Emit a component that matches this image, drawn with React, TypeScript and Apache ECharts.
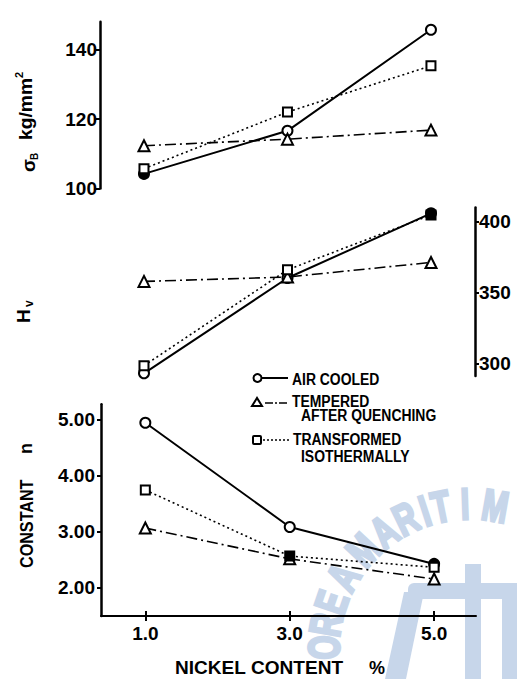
import React, { useEffect, useRef } from "react";
import * as echarts from "echarts";

// ---- data ----
const nickel = [1.0, 3.0, 5.0];
const treatments = ["AIR COOLED", "TEMPERED AFTER QUENCHING", "TRANSFORMED ISOTHERMALLY"];

const strengthAir = [104.2, 116.6, 145.7];
const strengthTempered = [112.3, 114.2, 116.8];
const strengthTransformed = [105.7, 122.0, 135.3];

const hardnessAir = [292.9, 360.2, 405.9];
const hardnessTempered = [357.8, 360.9, 371.2];
const hardnessTransformed = [298.3, 366.0, 404.7];

const constantAir = [4.95, 3.09, 2.43];
const constantTempered = [3.07, 2.52, 2.16];
const constantTransformed = [3.75, 2.57, 2.37];

const strengthTicks = [100, 120, 140];
const hardnessTicks = [300, 350, 400];
const constantTicks = [2, 3, 4, 5];
const nickelTicks = [1, 3, 5];

// ink-blotted (filled) markers in the scan: panel, treatment, point index
const filledMarks = [
  [0, 0, 0],
  [1, 0, 2],
  [1, 2, 2],
  [2, 2, 1],
  [2, 0, 2],
];

const FONT = '"Liberation Sans", Arial, sans-serif';
const WM = "#c7d6ea";

const treatmentStyle = [
  { symbol: "circle", size: 10, lineType: "solid" as any, width: 2 },
  { symbol: "triangle", size: 11, lineType: [11, 4, 2, 4] as any, width: 1.6 },
  { symbol: "rect", size: 9, lineType: [2, 3] as any, width: 1.6 },
];

const panels = [
  [strengthAir, strengthTempered, strengthTransformed],
  [hardnessAir, hardnessTempered, hardnessTransformed],
  [constantAir, constantTempered, constantTransformed],
];

function buildSeries() {
  const out: any[] = [];
  panels.forEach((panel, p) => {
    panel.forEach((vals, t) => {
      const st = treatmentStyle[t];
      out.push({
        type: "line",
        name: treatments[t],
        xAxisIndex: p,
        yAxisIndex: p,
        symbol: st.symbol,
        symbolSize: st.size,
        showAllSymbol: true,
        z: 5 + t,
        lineStyle: { color: "#000", width: st.width, type: st.lineType },
        itemStyle: { color: "#fff", borderColor: "#000", borderWidth: 2 },
        data: vals.map((v, i) => {
          const filled = filledMarks.some((f) => f[0] === p && f[1] === t && f[2] === i);
          return filled
            ? { value: [nickel[i], v], itemStyle: { color: "#000" } }
            : { value: [nickel[i], v] };
        }),
      });
    });
  });
  return out;
}

const tickLabel = { color: "#000", fontSize: 19, fontWeight: "bold" as const, fontFamily: FONT };

function txt(text: string, x: number, y: number, size: number, opts: any = {}) {
  return {
    type: "text",
    x,
    y,
    scaleX: opts.scaleX ?? 1,
    z: 100,
    style: {
      text,
      fill: opts.fill ?? "#000",
      fontSize: size,
      fontWeight: opts.weight ?? "bold",
      fontFamily: FONT,
      align: opts.align ?? "left",
      verticalAlign: "middle",
    },
  };
}

function watermark() {
  const letters = "OREAMARITIM".split("");
  const angles = [179, 170, 161, 150, 137, 126, 116, 108, 101.5, 92, 80];
  const cx = 470,
    cy = 650,
    r = 146;
  const els: any[] = letters.map((ch, i) => {
    const a = (angles[i] * Math.PI) / 180;
    return {
      type: "text",
      x: cx + r * Math.cos(a),
      y: cy - r * Math.sin(a),
      rotation: a - Math.PI / 2,
      scaleX: 0.7,
      z: -10,
      style: {
        text: ch,
        fill: WM,
        fontSize: 44,
        fontWeight: "bold",
        fontFamily: FONT,
        align: "center",
        verticalAlign: "middle",
        stroke: WM,
        lineWidth: 3,
      },
    };
  });
  els.push(
    { type: "rect", z: -10, shape: { x: 408, y: 583, width: 109, height: 16, r: [6, 0, 0, 0] }, style: { fill: WM } },
    { type: "polygon", z: -10, shape: { points: [[404, 592], [424, 592], [406, 679], [385, 679]] }, style: { fill: WM } },
    { type: "rect", z: -10, shape: { x: 465, y: 564, width: 16, height: 115 }, style: { fill: WM } },
    { type: "rect", z: -10, shape: { x: 502, y: 583, width: 15, height: 96 }, style: { fill: WM } }
  );
  return els;
}

function legend() {
  const s = { stroke: "#000", lineWidth: 2, fill: "#fff" };
  return [
    { type: "circle", z: 100, shape: { cx: 257.5, cy: 378, r: 4 }, style: s },
    { type: "line", z: 100, shape: { x1: 262, y1: 378, x2: 288, y2: 378 }, style: { stroke: "#000", lineWidth: 2 } },
    txt("AIR COOLED", 292, 379, 16, { scaleX: 0.87 }),
    { type: "polygon", z: 100, shape: { points: [[252, 406], [262, 406], [257, 398]] }, style: s },
    { type: "line", z: 100, shape: { x1: 265, y1: 403, x2: 288, y2: 403 }, style: { stroke: "#000", lineWidth: 1.6, lineDash: [8, 2, 2, 2] } },
    txt("TEMPERED", 292, 401, 16, { scaleX: 0.87 }),
    txt("AFTER QUENCHING", 301, 415, 16, { scaleX: 0.87 }),
    { type: "rect", z: 100, shape: { x: 253, y: 436, width: 8, height: 8, r: 1 }, style: s },
    { type: "line", z: 100, shape: { x1: 263, y1: 440, x2: 291, y2: 440 }, style: { stroke: "#000", lineWidth: 1.3, lineDash: [2, 2] } },
    txt("TRANSFORMED", 293, 439, 16, { scaleX: 0.87 }),
    txt("ISOTHERMALLY", 301, 456, 16, { scaleX: 0.87 }),
  ];
}

function titles() {
  return [
    {
      type: "group",
      x: 28,
      y: 172,
      rotation: Math.PI / 2,
      z: 100,
      children: [
        txt("σ", 0, 0, 19),
        txt("B", 12, 6, 10),
        txt("kg/mm", 32, -2, 18, { scaleX: 1.07 }),
        txt("2", 94, -9, 11),
      ],
    },
    {
      type: "group",
      x: 23,
      y: 323,
      rotation: Math.PI / 2,
      z: 100,
      children: [txt("H", 0, 0, 19), txt("v", 16, 6, 12)],
    },
    {
      type: "group",
      x: 27,
      y: 568,
      rotation: Math.PI / 2,
      z: 100,
      children: [txt("CONSTANT", 0, 0, 19, { scaleX: 0.85 }), txt("n", 114, -1, 18)],
    },
    txt("NICKEL CONTENT", 175, 668, 18, { scaleX: 1.06 }),
    txt("%", 369, 668, 18),
  ];
}

function buildOption(): any {
  const hiddenX = (gridIndex: number, max: number) => ({
    type: "value",
    gridIndex,
    min: 0.387,
    max,
    show: false,
  });
  return {
    animation: false,
    backgroundColor: "#fff",
    grid: [
      { left: 100, top: 21.7, width: 374, height: 166.8 },
      { left: 100, top: 207.5, width: 375, height: 168.5 },
      { left: 101, top: 404.3, width: 375, height: 211.7 },
    ],
    xAxis: [
      hiddenX(0, 5.6),
      hiddenX(1, 5.613),
      {
        type: "value",
        gridIndex: 2,
        position: "bottom",
        min: 0.386,
        max: 5.58,
        axisLine: { show: true, lineStyle: { color: "#000", width: 2 } },
        axisTick: { show: true, length: 5, lineStyle: { color: "#000", width: 2 }, customValues: nickelTicks },
        axisLabel: { ...tickLabel, margin: 8, customValues: nickelTicks, formatter: (v: number) => v.toFixed(1) },
        splitLine: { show: false },
      },
      {
        type: "value",
        gridIndex: 2,
        position: "bottom",
        offset: 0,
        min: 0.386,
        max: 5.58,
        axisLine: { show: false },
        axisTick: { show: true, inside: true, length: 5, lineStyle: { color: "#000", width: 2 }, customValues: nickelTicks },
        axisLabel: { show: false },
        splitLine: { show: false },
      },
    ],
    yAxis: [
      {
        type: "value",
        gridIndex: 0,
        min: 100,
        max: 148,
        axisLine: { show: true, lineStyle: { color: "#000", width: 2.5 } },
        axisTick: { show: true, length: 4, lineStyle: { color: "#000", width: 2 }, customValues: strengthTicks },
        axisLabel: { ...tickLabel, margin: 3, customValues: strengthTicks },
        splitLine: { show: false },
      },
      {
        type: "value",
        gridIndex: 1,
        position: "right",
        min: 291,
        max: 410,
        axisLine: { show: true, lineStyle: { color: "#000", width: 2.5 } },
        axisTick: { show: true, length: 4, lineStyle: { color: "#000", width: 2 }, customValues: hardnessTicks },
        axisLabel: { ...tickLabel, margin: 4, customValues: hardnessTicks },
        splitLine: { show: false },
      },
      {
        type: "value",
        gridIndex: 2,
        min: 1.5,
        max: 5.28,
        axisLine: { show: true, lineStyle: { color: "#000", width: 2.5 } },
        axisTick: { show: true, length: 4, lineStyle: { color: "#000", width: 2 }, customValues: constantTicks },
        axisLabel: { ...tickLabel, margin: 6, customValues: constantTicks, formatter: (v: number) => v.toFixed(2) },
        splitLine: { show: false },
      },
    ],
    graphic: [...watermark(), ...legend(), ...titles()],
    series: buildSeries(),
  };
}

export default function App() {
  const ref = useRef<HTMLDivElement>(null);
  useEffect(() => {
    if (!ref.current) return;
    const chart = echarts.init(ref.current, undefined, { renderer: "svg" });
    chart.setOption(buildOption());
    return () => chart.dispose();
  }, []);
  return (
    <div
      ref={ref}
      style={{ position: "absolute", left: 0, top: 0, width: 517, height: 679, background: "#fff" }}
    />
  );
}
